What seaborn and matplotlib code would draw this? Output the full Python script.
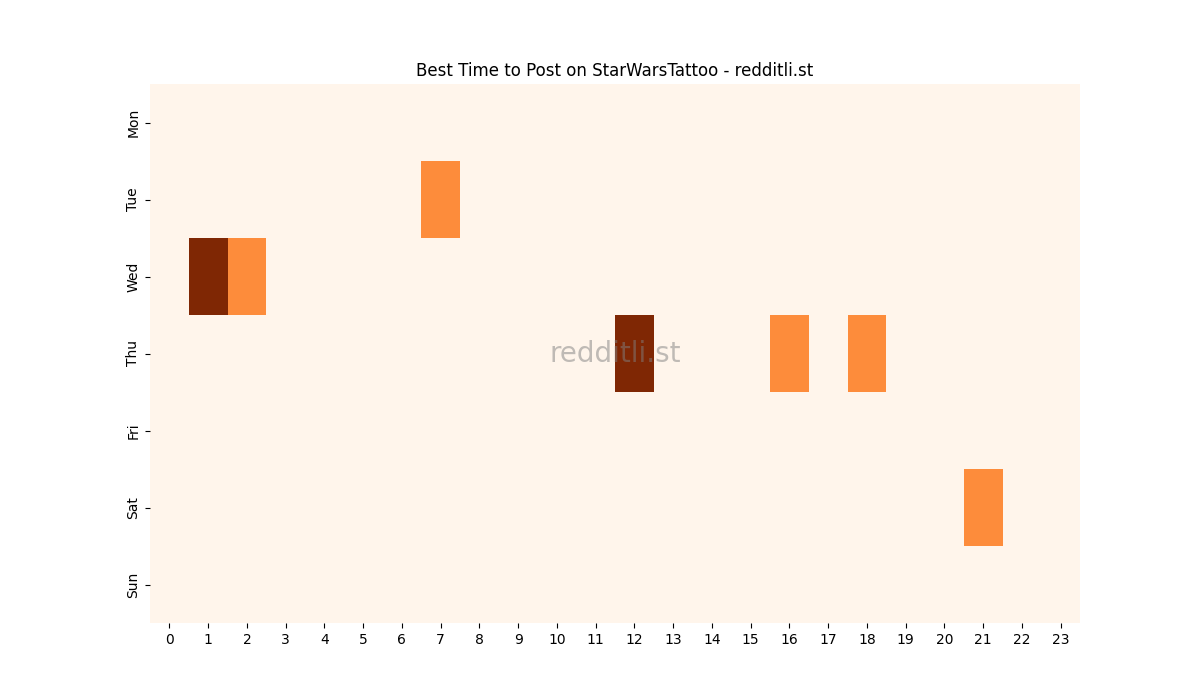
import matplotlib
matplotlib.use("Agg")
import matplotlib.pyplot as plt
import seaborn as sns
import numpy as np
import pandas as pd

days = ["Mon", "Tue", "Wed", "Thu", "Fri", "Sat", "Sun"]
hours = list(range(24))

mon = [0]*24
tue = [0]*24; tue[7] = 1
wed = [0]*24; wed[1] = 2; wed[2] = 1
thu = [0]*24; thu[12] = 2; thu[16] = 1; thu[18] = 1
fri = [0]*24
sat = [0]*24; sat[21] = 1
sun = [0]*24

df = pd.DataFrame([mon, tue, wed, thu, fri, sat, sun], index=days, columns=hours)

fig, ax = plt.subplots(figsize=(12, 7), dpi=100)
sns.heatmap(df, cmap="Oranges", cbar=False, ax=ax)
ax.set_title("Best Time to Post on StarWarsTattoo - redditli.st")
ax.set_xticklabels(ax.get_xticklabels(), rotation=0)
ax.set_yticklabels(ax.get_yticklabels(), rotation=90, va="center")
ax.text(0.5, 0.5, "redditli.st", transform=ax.transAxes, ha="center", va="center",
        fontsize=20, color="gray", alpha=0.5)
fig.savefig("out.png")
